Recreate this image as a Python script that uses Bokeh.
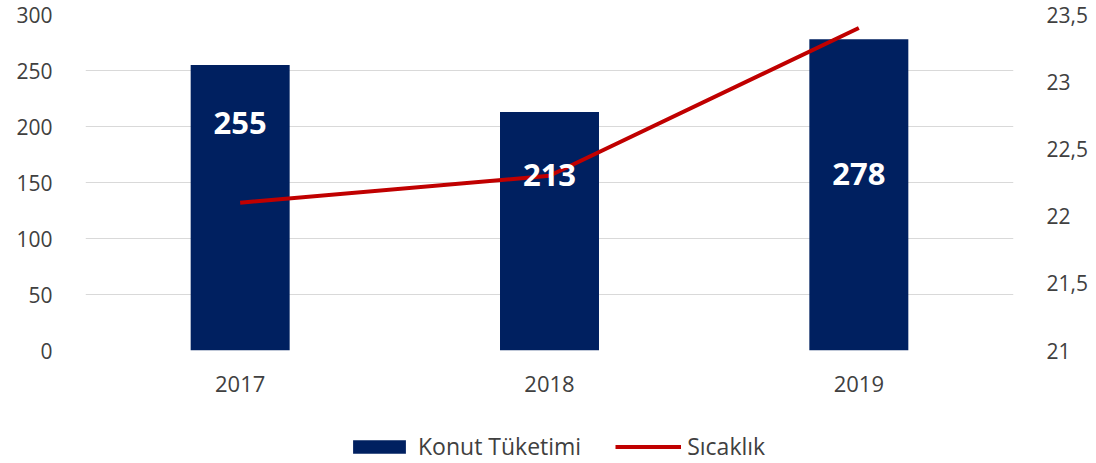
from bokeh.plotting import figure
from bokeh.layouts import column
from bokeh.models import (Range1d, LinearAxis, FixedTicker, CustomJSTickFormatter,
                          Legend, LegendItem, ColumnDataSource, LabelSet)
from bokeh.core.properties import value
from bokeh.embed import file_html
from bokeh.resources import INLINE

# ---- data ----
years = ["2017", "2018", "2019"]
konut = [255, 213, 278]
sicaklik = [22.1, 22.3, 23.4]
label_y = [203, 157, 158]
left_ticks = [0, 50, 100, 150, 200, 250, 300]
right_ticks = [21, 21.5, 22, 22.5, 23, 23.5]
series_names = ["Konut Tüketimi", "Sıcaklık"]

FONT = "Open Sans"
TXT = "#404040"
BAR_C = "#002060"
LINE_C = "#C00000"

p = figure(x_range=years, y_range=Range1d(0, 300), width=1096, height=400,
           output_backend="svg", toolbar_location=None,
           min_border_left=85, min_border_right=83, min_border_top=14,
           min_border_bottom=50)
p.outline_line_color = None
p.background_fill_color = "white"
p.border_fill_color = "white"

p.extra_y_ranges = {"temp": Range1d(21, 23.5)}

src = ColumnDataSource(dict(x=years, top=konut, t=sicaklik, ly=label_y,
                            lab=[str(v) for v in konut]))

bars = p.vbar(x="x", top="top", width=0.32, source=src, fill_color=BAR_C,
              line_color=None)
line = p.line(x="x", y="t", source=src, y_range_name="temp", line_color=LINE_C,
              line_width=4)

labels = LabelSet(x="x", y="ly", text="lab", source=src, text_color="white",
                  text_font=value(FONT), text_font_style="bold", text_font_size="31px",
                  text_align="center", text_baseline="middle")
p.add_layout(labels)

# axes
p.xaxis.axis_line_color = None
p.xaxis.major_tick_line_color = None
p.xaxis.minor_tick_line_color = None
p.xaxis.major_label_text_font = FONT
p.xaxis.major_label_text_font_size = "22px"
p.xaxis.major_label_text_color = TXT
p.xaxis.major_label_standoff = 19

p.yaxis.ticker = FixedTicker(ticks=left_ticks)
p.yaxis.axis_line_color = None
p.yaxis.major_tick_line_color = None
p.yaxis.minor_tick_line_color = None
p.yaxis.major_label_text_font = FONT
p.yaxis.major_label_text_font_size = "21px"
p.yaxis.major_label_text_color = TXT
p.yaxis.major_label_standoff = 27

ra = LinearAxis(y_range_name="temp", ticker=FixedTicker(ticks=right_ticks),
                formatter=CustomJSTickFormatter(code="return tick.toString().replace('.', ',');"))
ra.axis_line_color = None
ra.major_tick_line_color = None
ra.minor_tick_line_color = None
ra.major_label_text_font = FONT
ra.major_label_text_font_size = "21px"
ra.major_label_text_color = TXT
ra.major_label_standoff = 27
p.add_layout(ra, "right")

p.xgrid.grid_line_color = None
p.ygrid.grid_line_color = "#d9d9d9"
p.ygrid.grid_line_width = 1

# ---- legend strip ----
lf = figure(width=1096, height=63, x_range=Range1d(0, 1), y_range=Range1d(0, 1),
            output_backend="svg", toolbar_location=None,
            x_axis_location=None, y_axis_location=None,
            min_border_left=0, min_border_right=0, min_border_top=29, min_border_bottom=0)
lf.xgrid.grid_line_color = None
lf.ygrid.grid_line_color = None
lf.outline_line_color = None
lsrc = ColumnDataSource(dict(x=[0.5], top=[0], y=[0]))
lb = lf.vbar(x="x", top="top", width=0.0, source=lsrc, fill_color=BAR_C, line_color=None)
ll = lf.line(x="x", y="y", source=lsrc, line_color=LINE_C, line_width=4)

legend = Legend(items=[LegendItem(label=series_names[0], renderers=[lb]),
                       LegendItem(label=series_names[1], renderers=[ll])],
                orientation="horizontal", location="center_left")
legend.glyph_width = 66
legend.glyph_height = 17
legend.label_standoff = 6
legend.spacing = 34
legend.padding = 0
legend.margin = 261
legend.label_text_font = FONT
legend.label_text_font_size = "23px"
legend.label_text_color = TXT
legend.background_fill_alpha = 0
legend.border_line_color = None
lf.add_layout(legend)

layout = column(p, lf, spacing=0)
open("out.html", "w").write(file_html(layout, INLINE))
